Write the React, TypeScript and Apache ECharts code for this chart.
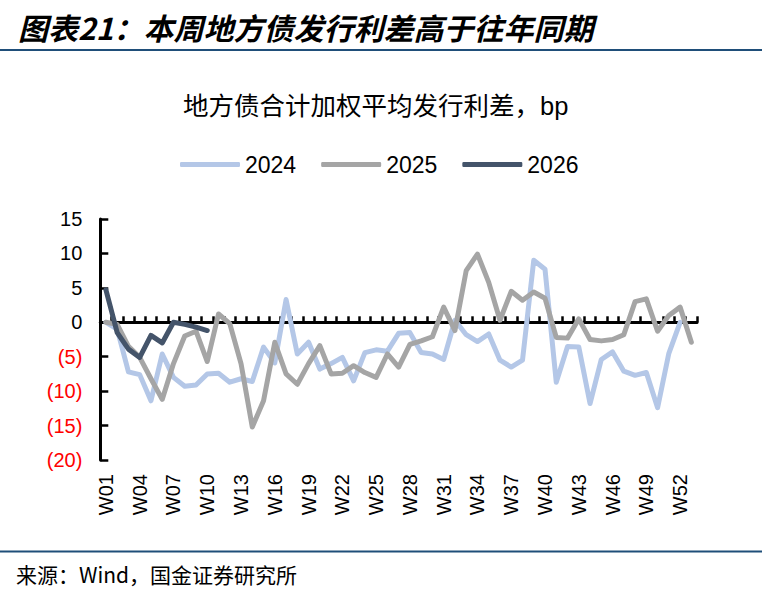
import React, { useEffect, useRef } from "react";
import * as echarts from "echarts";

const headerText = "图表21：本周地方债发行利差高于往年同期";
const chartTitle = "地方债合计加权平均发行利差，bp";
const sourceText = "来源：Wind，国金证券研究所";

const weeks = [
  "W01", "W02", "W03", "W04", "W05", "W06", "W07", "W08", "W09", "W10",
  "W11", "W12", "W13", "W14", "W15", "W16", "W17", "W18", "W19", "W20",
  "W21", "W22", "W23", "W24", "W25", "W26", "W27", "W28", "W29", "W30",
  "W31", "W32", "W33", "W34", "W35", "W36", "W37", "W38", "W39", "W40",
  "W41", "W42", "W43", "W44", "W45", "W46", "W47", "W48", "W49", "W50",
  "W51", "W52", "W53",
];

const seriesNames = ["2024", "2025", "2026"];

const values2024 = [
  0, -1, -7.2, -7.6, -11.4, -4.6, -8.0, -9.3, -9.1, -7.5,
  -7.4, -8.7, -8.2, -8.6, -3.6, -5.9, 3.3, -4.6, -2.9, -6.8,
  -6.0, -5.1, -8.5, -4.4, -4.0, -4.2, -1.6, -1.5, -4.4, -4.6,
  -5.4, 0.3, -1.8, -2.8, -1.7, -5.5, -6.5, -5.5, 9.0, 7.7,
  -8.7, -3.5, -3.6, -11.8, -5.4, -4.3, -7.1, -7.7, -7.3, -12.4,
  -4.5, 0,
];

const values2025 = [
  0, -0.3, -3.5, -5.1, -8.2, -11.2, -6.0, -2.0, -1.3, -5.7,
  1.2, -0.2, -6.0, -15.2, -11.4, -2.9, -7.5, -9.0, -6.0, -3.4,
  -7.5, -7.4, -6.3, -7.3, -8.0, -4.6, -6.5, -3.2, -2.7, -2.1,
  2.2, -1.2, 7.5, 9.9, 5.8, 0.3, 4.5, 3.2, 4.4, 3.5,
  -2.2, -2.3, 0.5, -2.5, -2.7, -2.5, -1.8, 3.0, 3.4, -1.3,
  1.0, 2.2, -2.9,
];

const values2026 = [4.7, -1.5, -3.9, -5.1, -1.9, -3.0, 0, -0.3, -0.7, -1.2];

const colors = ["#B4C7E7", "#A5A5A5", "#44546A"];

const latin = "Liberation Sans";

export default function App() {
  const ref = useRef<HTMLDivElement>(null);

  useEffect(() => {
    if (!ref.current) return;
    const chart = echarts.init(ref.current, null, { renderer: "svg" });
    const allValues = [values2024, values2025, values2026];
    const option: any = {
      animation: false,
      backgroundColor: "#fff",
      title: {
        text: chartTitle,
        left: 183,
        top: 93,
        padding: 0,
        textStyle: {
          fontSize: 25.5,
          fontWeight: "normal",
          color: "#000",
          fontFamily: "Liberation Sans, Noto Sans CJK SC",
        },
      },
      legend: {
        data: seriesNames,
        left: 180,
        top: 153,
        padding: 0,
        itemWidth: 60,
        itemHeight: 5,
        itemGap: 25,
        icon: "roundRect",
        textStyle: { fontSize: 23, color: "#000", fontFamily: latin },
      },
      grid: { left: 100.3, right: 78, top: 219, bottom: 144, containLabel: false },
      xAxis: [
        {
          type: "category",
          data: weeks,
          boundaryGap: true,
          position: "bottom",
          axisLine: { show: false, onZero: false },
          axisTick: { show: false },
          axisLabel: {
            interval: 2,
            rotate: 90,
            fontSize: 20,
            color: "#000",
            fontFamily: latin,
            margin: 14,
          },
          splitLine: { show: false },
        },
        {
          type: "category",
          data: weeks,
          boundaryGap: true,
          position: "bottom",
          axisLine: { show: true, onZero: true, lineStyle: { color: "#000", width: 3 } },
          axisTick: {
            show: true,
            inside: true,
            length: 6,
            interval: 0,
            lineStyle: { color: "#000", width: 2.5 },
          },
          axisLabel: { show: false },
          splitLine: { show: false },
        },
      ],
      yAxis: {
        type: "value",
        min: -20,
        max: 15,
        interval: 5,
        axisLine: { show: true, onZero: false, lineStyle: { color: "#000", width: 3 } },
        axisTick: { show: true, inside: true, length: 8, lineStyle: { color: "#000", width: 2.5 } },
        axisLabel: {
          margin: 18,
          fontSize: 20,
          fontFamily: latin,
          color: "#000",
          formatter: (v: number) => (v < 0 ? `{neg|(${-v})}` : `{pos|${v}}`),
          rich: {
            neg: { color: "#FF0000", fontSize: 20, fontFamily: latin },
            pos: { color: "#000", fontSize: 20, fontFamily: latin },
          },
        },
        splitLine: { show: false },
      },
      series: seriesNames.map((name, i) => ({
        name,
        type: "line",
        xAxisIndex: 0,
        data: allValues[i],
        color: colors[i],
        symbol: "none",
        showSymbol: false,
        smooth: false,
        z: 3 + i,
        itemStyle: { color: colors[i] },
        lineStyle: { color: colors[i], width: 5, join: "round", cap: "round" },
      })),
      graphic: [
        {
          type: "text",
          x: 18,
          y: 27,
          style: {
            text: headerText,
            fontSize: 30,
            fontWeight: "bold",
            fontStyle: "italic",
            fontFamily: "Noto Sans CJK SC",
            fill: "#000",
            verticalAlign: "middle",
          },
        },
        {
          type: "line",
          shape: { x1: 0, y1: 50, x2: 762, y2: 50 },
          style: { stroke: "#1F4E79", lineWidth: 2 },
        },
        {
          type: "line",
          shape: { x1: 0, y1: 551.5, x2: 762, y2: 551.5 },
          style: { stroke: "#1F4E79", lineWidth: 2 },
        },
        {
          type: "text",
          x: 16,
          y: 574,
          style: {
            text: sourceText,
            fontSize: 21,
            fontFamily: "Noto Sans CJK SC",
            fill: "#000",
            verticalAlign: "middle",
          },
        },
      ],
    };
    chart.setOption(option);
    return () => chart.dispose();
  }, []);

  return (
    <div
      ref={ref}
      style={{ position: "absolute", left: 0, top: 0, width: 775, height: 604, background: "#fff" }}
    />
  );
}
